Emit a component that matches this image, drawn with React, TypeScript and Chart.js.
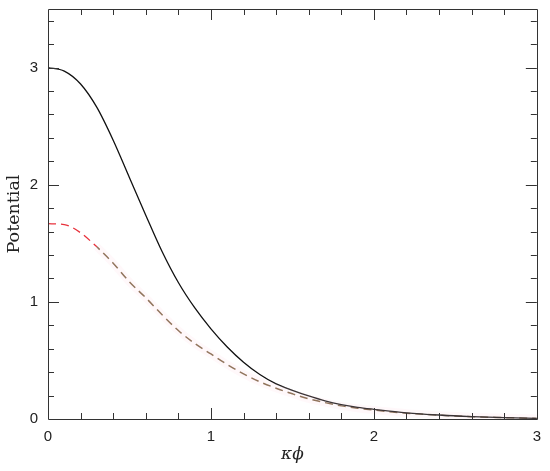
import React, { useEffect, useRef } from "react";
import { Chart, registerables } from "chart.js";

Chart.register(...registerables);

const xValues = [0, 0.1, 0.2, 0.3, 0.4, 0.5, 0.6, 0.7, 0.8, 0.9, 1.0, 1.1, 1.2, 1.3, 1.4, 1.5, 1.6, 1.7, 1.8, 1.9, 2.0, 2.2, 2.4, 2.6, 2.8, 3.0];
const solidValues = [3.0, 2.97, 2.86, 2.66, 2.38, 2.06, 1.74, 1.43, 1.165, 0.95, 0.77, 0.615, 0.485, 0.38, 0.3, 0.245, 0.197, 0.155, 0.123, 0.1, 0.083, 0.053, 0.034, 0.021, 0.012, 0.005];
const dashedValues = [1.667, 1.66, 1.59, 1.47, 1.33, 1.17, 1.035, 0.89, 0.755, 0.645, 0.555, 0.465, 0.385, 0.318, 0.263, 0.215, 0.172, 0.14, 0.112, 0.092, 0.076, 0.05, 0.033, 0.02, 0.012, 0.005];
const xTickValues = [0, 1, 2, 3];
const yTickValues = [0, 1, 2, 3];
const xTitle = "κϕ";
const yTitle = "Potential";

const frameTicks = {
  id: "frameTicks",
  afterDatasetsDraw(chart: any) {
    const { ctx, chartArea, scales } = chart;
    const { left, right, top, bottom } = chartArea;
    ctx.save();
    ctx.strokeStyle = "#333";
    ctx.lineWidth = 1;
    ctx.beginPath();
    ctx.rect(Math.round(left) + 0.5, Math.round(top) + 0.5, Math.round(right - left), Math.round(bottom - top));
    ctx.stroke();
    ctx.beginPath();
    for (let i = 1; i < 15; i++) {
      const v = i * 0.2;
      const px = Math.round(scales.x.getPixelForValue(v)) + 0.5;
      const major = Math.abs(v - Math.round(v)) < 1e-6;
      const len = major ? 11 : 6;
      ctx.moveTo(px, bottom);
      ctx.lineTo(px, bottom - len);
      ctx.moveTo(px, top);
      ctx.lineTo(px, top + len);
    }
    for (let i = 1; i < 18; i++) {
      const v = i * 0.2;
      const py = Math.round(scales.y.getPixelForValue(v)) + 0.5;
      const major = Math.abs(v - Math.round(v)) < 1e-6;
      const len = major ? 11 : 6;
      ctx.moveTo(left, py);
      ctx.lineTo(left + len, py);
      ctx.moveTo(right, py);
      ctx.lineTo(right - len, py);
    }
    ctx.stroke();
    ctx.restore();
  },
};

export default function App() {
  const ref = useRef<HTMLCanvasElement>(null);
  useEffect(() => {
    document.body.style.margin = "0";
    const red = "#e8323c";
    const brown = "#7a6040";
    const pts = xValues.map((x, i) => ({ x, y: dashedValues[i] }));
    const common = { pointRadius: 0, fill: false, cubicInterpolationMode: "monotone" as const };
    const chart = new Chart(ref.current!, {
      type: "line",
      data: {
        datasets: [
          {
            label: "halo",
            data: pts.filter((p) => p.x >= 0.3),
            borderColor: "rgba(255,215,228,0.18)",
            borderWidth: 8,
            ...common,
          },
          {
            label: "solid",
            data: xValues.map((x, i) => ({ x, y: solidValues[i] })),
            borderColor: "#111",
            borderWidth: 1.3,
            ...common,
          },
          {
            label: "dashed-red",
            data: pts.filter((p) => p.x <= 0.3),
            borderColor: red,
            backgroundColor: red,
            borderWidth: 1.3,
            borderDash: [8, 5],
            ...common,
          },
          {
            label: "dashed",
            data: pts.filter((p) => p.x >= 0.3),
            borderColor: brown,
            backgroundColor: brown,
            borderWidth: 1.5,
            borderDash: [8, 5],
            borderDashOffset: 4,
            ...common,
          },
        ],
      },
      options: {
        responsive: false,
        animation: false,
        layout: { padding: { top: 9, right: 13, left: 0, bottom: 0 } },
        plugins: { legend: { display: false }, tooltip: { enabled: false } },
        scales: {
          x: {
            type: "linear",
            min: 0,
            max: 3,
            grid: { display: false, drawTicks: false },
            border: { display: false },
            afterBuildTicks: (s: any) => {
              s.ticks = xTickValues.map((v) => ({ value: v }));
            },
            afterFit: (s: any) => {
              s.height = 52;
            },
            ticks: {
              padding: 9,
              maxRotation: 0,
              color: "#222",
              font: { family: "Liberation Sans", size: 15 },
              callback: (v: any) => String(v),
            },
            title: {
              display: true,
              text: xTitle,
              color: "#222",
              padding: { top: 0, bottom: 6 },
              font: { family: "DejaVu Serif", style: "italic", size: 17 },
            },
          },
          y: {
            type: "linear",
            min: 0,
            max: 3.5,
            grid: { display: false, drawTicks: false },
            border: { display: false },
            afterBuildTicks: (s: any) => {
              s.ticks = yTickValues.map((v) => ({ value: v }));
            },
            afterFit: (s: any) => {
              s.width = 48;
              s.paddingTop = 9;
              s.paddingBottom = 9;
            },
            ticks: {
              padding: 10,
              color: "#222",
              font: { family: "Liberation Sans", size: 15 },
              callback: (v: any) => String(v),
            },
            title: {
              display: true,
              text: yTitle,
              color: "#222",
              padding: { top: 4, bottom: 0 },
              font: { family: "DejaVu Serif", size: 17.5 },
            },
          },
        },
      },
      plugins: [frameTicks],
    });
    return () => chart.destroy();
  }, []);
  return (
    <div style={{ width: 550, height: 471 }}>
      <canvas ref={ref} width={550} height={471} style={{ width: 550, height: 471, display: "block" }} />
    </div>
  );
}
